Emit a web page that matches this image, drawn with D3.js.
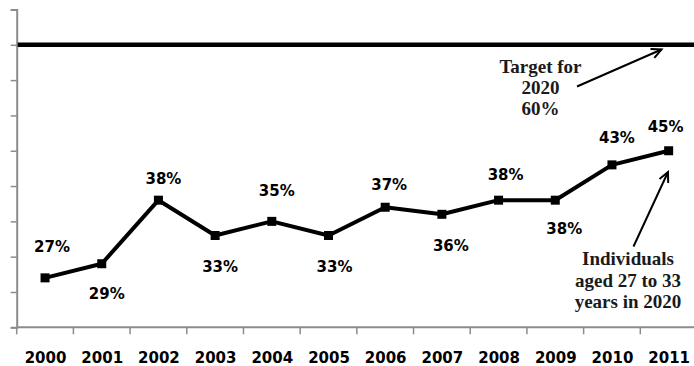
<!DOCTYPE html>
<html>
<head>
<meta charset="utf-8">
<script src="https://cdn.jsdelivr.net/npm/d3@7"></script>
<style>
html,body{margin:0;padding:0;background:#fff;}
svg{display:block;}
</style>
</head>
<body>
<svg id="chart" width="694" height="366"></svg>
<script>
// ---- data ----
const years = ["2000","2001","2002","2003","2004","2005","2006","2007","2008","2009","2010","2011"];
const values = [27, 29, 38, 33, 35, 33, 37, 36, 38, 38, 43, 45];
const valueLabels = ["27%","29%","38%","33%","35%","33%","37%","36%","38%","38%","43%","45%"];
const target = 60;
const yTicks = [20, 25, 30, 35, 40, 45, 50, 55, 60, 65];
const targetNote = ["Target for", "2020", "60%"];
const seriesNote = ["Individuals", "aged 27 to 33", "years in 2020"];
// label placement offsets (dx, dy to baseline) relative to each point
const labelOffsets = [[7,-26],[5,35],[5,-16],[5,37],[5,-25],[6,37],[4,-17],[9,37],[7,-20],[9,34],[5,-22],[-3,-19]];

// ---- layout ----
const svg = d3.select("#chart");
const x = d3.scaleBand().domain(years).range([16.7, 697]).paddingInner(0).paddingOuter(0);
const y = d3.scaleLinear().domain([20, 65]).range([327.3, 9.5]);
const axisColor = "#8c8c8c";

// y axis
const yAxis = d3.axisLeft(y).tickValues(yTicks).tickSize(6).tickFormat("");
const gy = svg.append("g").attr("transform", "translate(16.7,0)").call(yAxis);
gy.select(".domain").attr("stroke", axisColor).attr("stroke-width", 2);
gy.selectAll(".tick line").attr("stroke", axisColor).attr("stroke-width", 1.5);

// x axis
const xAxis = d3.axisBottom(x).tickSize(0).tickFormat("");
const gx = svg.append("g").attr("transform", `translate(0,${y(20)})`).call(xAxis);
gx.select(".domain").attr("stroke", axisColor).attr("stroke-width", 2).attr("d", `M16.7,0H697`);
// boundary ticks
gx.selectAll(".bt").data(years).enter().append("line")
  .attr("class","bt")
  .attr("x1", d => x(d)).attr("x2", d => x(d))
  .attr("y1", 0).attr("y2", 7)
  .attr("stroke", axisColor).attr("stroke-width", 1.5);
gx.selectAll(".tick").remove();
svg.append("g").selectAll("text").data(years).enter().append("text")
  .attr("x", d => x(d) + x.bandwidth()/2 + 0.5)
  .attr("y", 362.5)
  .attr("text-anchor", "middle")
  .attr("font-family", "DejaVu Sans")
  .attr("font-weight", "bold")
  .attr("font-size", 15)
  .attr("fill", "#000")
  .text(d => d);

// target line
svg.append("line")
  .attr("x1", 17.7).attr("x2", 694)
  .attr("y1", y(target)).attr("y2", y(target))
  .attr("stroke", "#000").attr("stroke-width", 4.5);

// series line
const cx = d => x(d) + x.bandwidth()/2;
const line = d3.line().x((d,i) => cx(years[i])).y(d => y(d));
svg.append("path").datum(values)
  .attr("d", line)
  .attr("fill", "none")
  .attr("stroke", "#000")
  .attr("stroke-width", 4)
  .attr("stroke-linejoin", "round");

svg.append("g").selectAll("rect").data(values).enter().append("rect")
  .attr("x", (d,i) => cx(years[i]) - 4.5)
  .attr("y", d => y(d) - 4.5)
  .attr("width", 9).attr("height", 9)
  .attr("fill", "#000");

// value labels
svg.append("g").selectAll("text").data(values).enter().append("text")
  .attr("x", (d,i) => cx(years[i]) + labelOffsets[i][0])
  .attr("y", (d,i) => y(d) + labelOffsets[i][1])
  .attr("text-anchor", "middle")
  .attr("font-family", "DejaVu Sans")
  .attr("font-weight", "bold")
  .attr("font-size", 15)
  .attr("fill", "#000")
  .text((d,i) => valueLabels[i]);

// annotations
const serif = "Liberation Serif";
svg.append("g").selectAll("text").data(targetNote).enter().append("text")
  .attr("x", 540.5)
  .attr("y", (d,i) => 72.7 + i*21.2)
  .attr("text-anchor", "middle")
  .attr("font-family", serif)
  .attr("font-weight", "bold")
  .attr("font-size", 19)
  .attr("fill", "#1a1a1a")
  .text(d => d);

svg.append("g").selectAll("text").data(seriesNote).enter().append("text")
  .attr("x", 628)
  .attr("y", (d,i) => 265 + i*21.7)
  .attr("text-anchor", "middle")
  .attr("font-family", serif)
  .attr("font-weight", "bold")
  .attr("font-size", 19)
  .attr("fill", "#1a1a1a")
  .text(d => d);

// arrows
function arrow(x1, y1, x2, y2) {
  const g = svg.append("g");
  g.append("line").attr("x1", x1).attr("y1", y1).attr("x2", x2).attr("y2", y2)
    .attr("stroke", "#000").attr("stroke-width", 2);
  const a = Math.atan2(y2 - y1, x2 - x1);
  const L = 11, w = 0.45;
  const p1 = [x2 - L*Math.cos(a - w), y2 - L*Math.sin(a - w)];
  const p2 = [x2 - L*Math.cos(a + w), y2 - L*Math.sin(a + w)];
  g.append("path").attr("d", `M${p1[0]},${p1[1]}L${x2},${y2}L${p2[0]},${p2[1]}`)
    .attr("fill", "none").attr("stroke", "#000").attr("stroke-width", 2);
}
arrow(577, 86.5, 661.5, 49.5);
arrow(633.5, 246.5, 668, 172);
</script>
</body>
</html>
